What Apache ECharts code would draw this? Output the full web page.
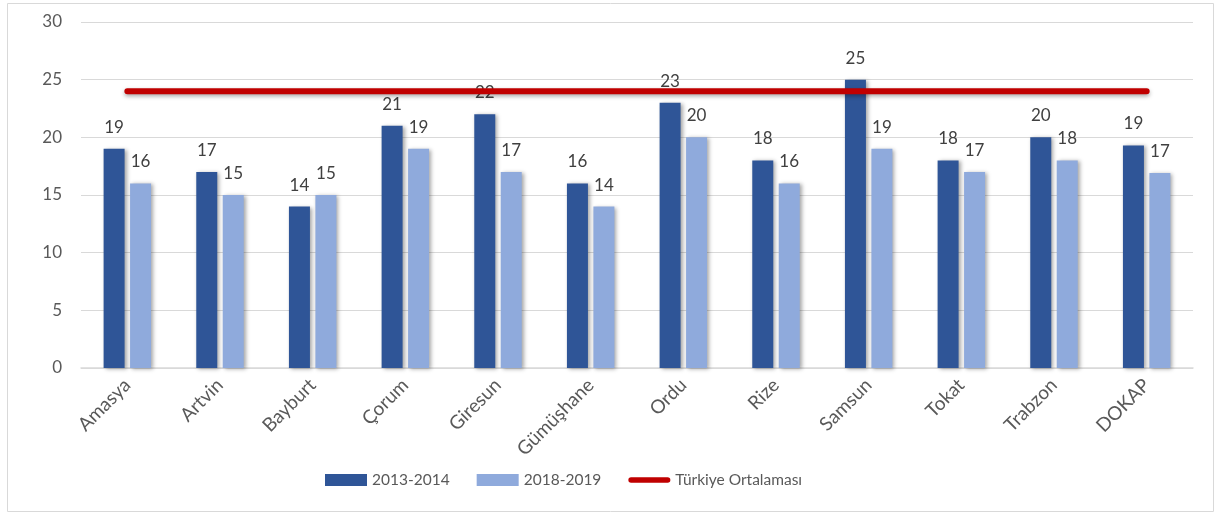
<!DOCTYPE html>
<html><head><meta charset="utf-8">
<script src="https://cdn.jsdelivr.net/npm/echarts@6/dist/echarts.min.js"></script>
<style>html,body{margin:0;padding:0;background:#fff}#c{width:1221px;height:516px}</style>
</head><body><div id="c"></div>
<script>
const categories = ['Amasya','Artvin','Bayburt','Çorum','Giresun','Gümüşhane','Ordu','Rize','Samsun','Tokat','Trabzon','DOKAP'];
const s2013 = [19,17,14,21,22,16,23,18,25,18,20,19.3];
const s2018 = [16,15,15,19,17,14,20,16,19,17,18,16.9];
const turkiye = [24,24,24,24,24,24,24,24,24,24,24,24];
const yTicks = {min:0, max:30, interval:5};

const font = 'Lato, "Open Sans", sans-serif';
const chart = echarts.init(document.getElementById('c'));
const barShadow = {shadowColor:'rgba(0,0,0,0.35)', shadowBlur:4, shadowOffsetX:2, shadowOffsetY:1};
chart.setOption({
  animation:false,
  textStyle:{fontFamily:font},
  graphic:[{type:'rect', shape:{x:7.5,y:3.5,width:1206,height:508}, style:{fill:'none', stroke:'#d9d9d9', lineWidth:1}}],
  grid:{left:81, right:28, top:22, bottom:148},
  legend:{top:467, left:320, itemWidth:42, itemHeight:12, itemGap:27,
    textStyle:{fontSize:15.5, color:'#595959', fontFamily:font},
    data:[{name:'2013-2014', icon:'rect'},{name:'2018-2019', icon:'rect'},
      {name:'Türkiye Ortalaması', icon:'path://M3,0 L43,0 A3,3 0 0 1 43,6 L3,6 A3,3 0 0 1 3,0 Z'}]},
  xAxis:{type:'category', data:categories,
    axisLine:{lineStyle:{color:'#d9d9d9', width:1.5}}, axisTick:{show:false},
    axisLabel:{rotate:45, fontSize:19, color:'#595959', margin:14, interval:0}},
  yAxis:{type:'value', min:yTicks.min, max:yTicks.max, interval:yTicks.interval,
    axisLine:{show:false}, axisTick:{show:false},
    splitLine:{lineStyle:{color:'#d9d9d9', width:1}},
    axisLabel:{fontSize:17, color:'#595959', margin:19}},
  series:[
    {name:'2013-2014', type:'bar', data:s2013, barWidth:21, barGap:'26%',
      itemStyle:Object.assign({color:'#2f5597'}, barShadow),
      label:{show:true, position:'top', distance:13, fontSize:17, color:'#404040', formatter:p=>Math.round(p.value)}},
    {name:'2018-2019', type:'bar', data:s2018, barWidth:21, barGap:'26%',
      itemStyle:Object.assign({color:'#8faadc'}, barShadow),
      label:{show:true, position:'top', distance:13, fontSize:17, color:'#404040', formatter:p=>Math.round(p.value)}},
    {name:'Türkiye Ortalaması', type:'line', data:turkiye, showSymbol:false, symbol:'none', z:5,
      itemStyle:{color:'#c00000'},
      lineStyle:{color:'#c00000', width:6, cap:'round', shadowColor:'rgba(0,0,0,0.35)', shadowBlur:4, shadowOffsetY:2}}
  ]
});
</script></body></html>
